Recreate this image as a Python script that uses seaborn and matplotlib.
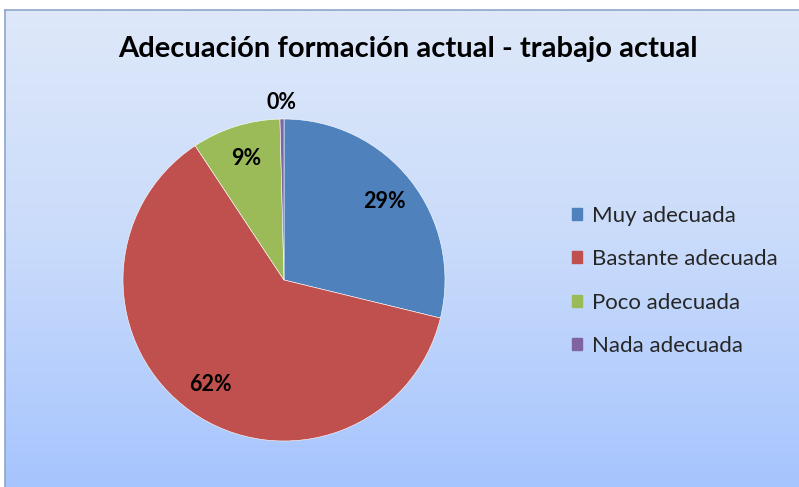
import numpy as np
import matplotlib
matplotlib.use("Agg")
import matplotlib.pyplot as plt
import seaborn as sns
from matplotlib.colors import LinearSegmentedColormap

# data
categories = ["Muy adecuada", "Bastante adecuada", "Poco adecuada", "Nada adecuada"]
shares = [28.8, 61.9, 8.9, 0.4]
colors = ["#4F81BD", "#C0504D", "#9BBB59", "#8064A2"]
title = "Adecuación formación actual - trabajo actual"

sns.set_style("white")
plt.rcParams["font.family"] = ["Lato", "DejaVu Sans"]

W, H = 799, 487
fig = plt.figure(figsize=(W / 100, H / 100), dpi=100)
fig.patch.set_facecolor("white")

# chart area with vertical gradient and a border on left/top
bg = fig.add_axes([5 / W, 0, (W - 5) / W, (H - 10) / H])
cmap = LinearSegmentedColormap.from_list("bg", ["#A6C4FE", "#C9DBFB", "#DEE8F9"])
grad = np.linspace(0, 1, 256).reshape(-1, 1)
bg.imshow(grad, aspect="auto", cmap=cmap, origin="lower", extent=[0, 1, 0, 1])
bg.set_xticks([])
bg.set_yticks([])
for side in ["right", "bottom"]:
    bg.spines[side].set_visible(False)
for side in ["left", "top"]:
    bg.spines[side].set_color("#8EA6C9")
    bg.spines[side].set_linewidth(1.2)

fig.text(408 / W, 1 - 49 / H, title, ha="center", va="center",
         fontsize=21, fontweight="bold", color="black")

# pie axes: centre (284, 280), radius 161 px
r = 161
ax = fig.add_axes([(284 - r) / W, (H - 280 - r) / H, 2 * r / W, 2 * r / H])
ax.patch.set_visible(False)
wedges, texts, autotexts = ax.pie(
    shares, colors=colors, startangle=90, counterclock=False,
    autopct=lambda p: f"{p:.0f}%", pctdistance=0.79,
    wedgeprops=dict(linewidth=0.4, edgecolor="white"),
    textprops=dict(fontsize=15.5, fontweight="bold", color="black"),
)
ax.set_xlim(-1, 1)
ax.set_ylim(-1, 1)

# the tiny slice gets its label outside the pie
w = wedges[-1]
mid = np.deg2rad((w.theta1 + w.theta2) / 2)
autotexts[-1].set_position((1.10 * np.cos(mid), 1.10 * np.sin(mid)))

handles = [plt.Rectangle((0, 0), 1, 1, color=c) for c in colors]
fig.legend(handles, categories, loc="center left",
           bbox_to_anchor=(563 / W, 1 - 281 / H), frameon=False,
           borderaxespad=0, fontsize=16, handlelength=0.45, handleheight=0.45,
           handletextpad=0.45, labelspacing=1.05)

fig.savefig("out.png", dpi=100)
